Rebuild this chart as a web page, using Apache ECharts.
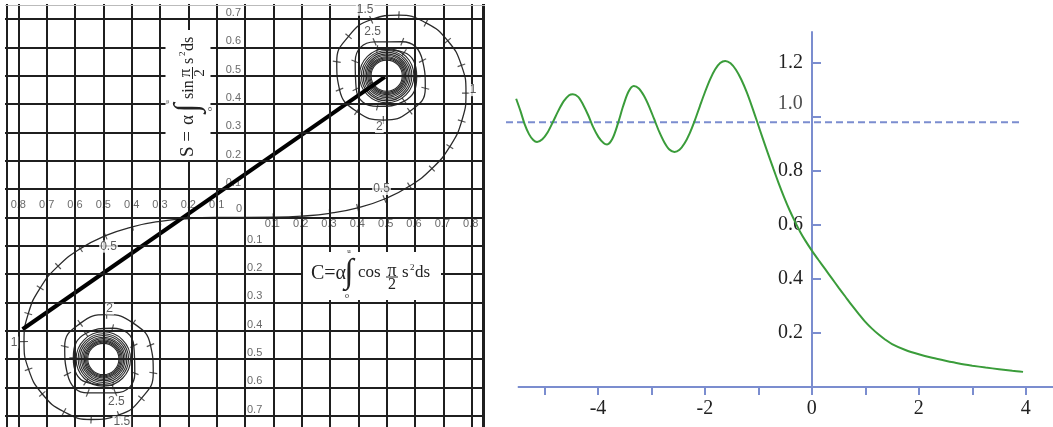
<!DOCTYPE html>
<html>
<head>
<meta charset="utf-8">
<title>Cornu spiral / edge diffraction</title>
<style>
    html, body { margin: 0; padding: 0; background: #fff; }
    #main { width: 1053px; height: 427px; }
</style>
</head>
<body>
<div id="main"></div>
<script src="https://cdn.jsdelivr.net/npm/echarts@6/dist/echarts.min.js"></script>
<script>
// Cornu spiral, read at u = 0, 0.1, 0.2 ... 3.2
var upperC = [0, 0.0999, 0.1999, 0.2994, 0.3975, 0.4923, 0.5811, 0.6597, 0.7228, 0.7648, 0.7799,
    0.7638, 0.7154, 0.6386, 0.5431, 0.4453, 0.3655, 0.3238, 0.3336, 0.3944, 0.4882,
    0.5816, 0.6363, 0.6266, 0.5550, 0.4574, 0.3889, 0.3925, 0.4675, 0.5624, 0.6058, 0.5616, 0.4664];
var upperS = [0, 0.0005, 0.0042, 0.0141, 0.0334, 0.0647, 0.1105, 0.1721, 0.2493, 0.3398, 0.4383,
    0.5365, 0.6234, 0.6863, 0.7135, 0.6975, 0.6389, 0.5492, 0.4509, 0.3733, 0.3434,
    0.3743, 0.4557, 0.5532, 0.6197, 0.6192, 0.5500, 0.4529, 0.3915, 0.4101, 0.4963, 0.5818, 0.5933];
// same spiral for u = 0, -0.1 ... -3.2
var lowerC = [0, -0.0999, -0.1999, -0.2994, -0.3975, -0.4923, -0.5811, -0.6597, -0.7228, -0.7648, -0.7799,
    -0.7638, -0.7154, -0.6386, -0.5431, -0.4453, -0.3655, -0.3238, -0.3336, -0.3944, -0.4882,
    -0.5816, -0.6363, -0.6266, -0.5550, -0.4574, -0.3889, -0.3925, -0.4675, -0.5624, -0.6058, -0.5616, -0.4664];
var lowerS = [0, -0.0005, -0.0042, -0.0141, -0.0334, -0.0647, -0.1105, -0.1721, -0.2493, -0.3398, -0.4383,
    -0.5365, -0.6234, -0.6863, -0.7135, -0.6975, -0.6389, -0.5492, -0.4509, -0.3733, -0.3434,
    -0.3743, -0.4557, -0.5532, -0.6197, -0.6192, -0.5500, -0.4529, -0.3915, -0.4101, -0.4963, -0.5818, -0.5933];

var spiralLabels = ['0.5', '1', '1.5', '2', '2.5'];
var spiralLabelIndex = [5, 10, 15, 20, 25];

// tight windings near the two eyes
var eyeUpper = [0.5, 0.5];
var eyeLower = [-0.5, -0.5];
var ringRadii = [0.096, 0.089, 0.083, 0.077, 0.072, 0.067, 0.063, 0.059, 0.055];

// straight chord
var chordC = [-0.785, 0.494];
var chordS = [-0.395, 0.496];

var gridC = [-0.8, -0.7, -0.6, -0.5, -0.4, -0.3, -0.2, -0.1, 0, 0.1, 0.2, 0.3, 0.4, 0.5, 0.6, 0.7, 0.8];
var gridS = [-0.7, -0.6, -0.5, -0.4, -0.3, -0.2, -0.1, 0, 0.1, 0.2, 0.3, 0.4, 0.5, 0.6, 0.7];
var cTicks = [0.1, 0.2, 0.3, 0.4, 0.5, 0.6, 0.7, 0.8];
var cTickLabels = ['0.1', '0.2', '0.3', '0.4', '0.5', '0.6', '0.7', '0.8'];
var sTicks = [0.1, 0.2, 0.3, 0.4, 0.5, 0.6, 0.7];
var sTickLabels = ['0.1', '0.2', '0.3', '0.4', '0.5', '0.6', '0.7'];

// intensity behind the edge
var intensityX = [-5.53, -5.45, -5.37, -5.29, -5.21, -5.14,
    -5.04, -4.94, -4.84, -4.74, -4.64, -4.54, -4.47,
    -4.37, -4.28, -4.18, -4.09, -3.99, -3.89, -3.83,
    -3.73, -3.63, -3.53, -3.43, -3.33,
    -3.235, -3.14, -3.045, -2.95, -2.855, -2.76, -2.665, -2.57,
    -2.475, -2.38, -2.285, -2.19, -2.095, -2.0, -1.905, -1.81, -1.715, -1.62,
    -1.52, -1.42, -1.32, -1.22, -1.12, -1.02, -0.92, -0.82, -0.72, -0.62, -0.52, -0.42, -0.32, -0.22, -0.11, 0,
    0.125, 0.25, 0.375, 0.5, 0.625, 0.75, 0.875, 1.0, 1.125, 1.25, 1.375, 1.5, 1.75, 2.0, 2.25, 2.5, 2.75,
    3.0, 3.25, 3.5, 3.75, 3.95];
var intensityY = [1.067, 1.022, 0.972, 0.936, 0.914, 0.907,
    0.917, 0.943, 0.982, 1.023, 1.058, 1.080, 1.084,
    1.074, 1.046, 1.005, 0.962, 0.925, 0.902, 0.898,
    0.919, 0.973, 1.039, 1.093, 1.114,
    1.105, 1.078, 1.039, 0.992, 0.945, 0.906, 0.879, 0.870,
    0.878, 0.902, 0.939, 0.986, 1.039, 1.091, 1.138, 1.175, 1.199, 1.207,
    1.198, 1.174, 1.138, 1.092, 1.038, 0.98, 0.921, 0.864, 0.808, 0.754, 0.703, 0.656, 0.614, 0.575, 0.538, 0.505,
    0.470, 0.436, 0.402, 0.368, 0.335, 0.302, 0.271, 0.241, 0.216, 0.194, 0.175, 0.159, 0.137, 0.121, 0.108, 0.097, 0.087,
    0.079, 0.072, 0.066, 0.06, 0.056];
var levelX = [-5.72, 3.9];
var levelY = 0.98;
var xAxisSpan = [-5.5, 4.51];
var xTickValues = [-5, -4, -3, -2, -1, 0, 1, 2, 3, 4];
var xLabelValues = [-4, -2, 0, 2, 4];
var yTickValues = [0.2, 0.4, 0.6, 0.8, 1.0, 1.2];
var yLabelValues = [0.2, 0.4, 0.6, 0.8, 1.2];

var INK = '#1f1f1f';
var BLUE = '#7b8dcf';
var SERIF = '"Liberation Serif", "DejaVu Serif", serif';
var SANS = '"Liberation Sans", Arial, sans-serif';

function zip(xs, ys) {
    return xs.map(function (x, i) { return [x, ys[i]]; });
}

// short marks across the spiral, perpendicular to it
function buildTicks(cs, ss) {
    var out = [];
    for (var i = 1; i < cs.length; i++) {
        var a = i - 1, b = Math.min(i + 1, cs.length - 1);
        var angle = Math.atan2(ss[b] - ss[a], cs[b] - cs[a]) * 180 / Math.PI;
        out.push({ value: [cs[i], ss[i]], symbolRotate: angle });
    }
    return out;
}

function buildRings(centre) {
    return ringRadii.map(function (r) { return [centre[0], centre[1], r]; });
}

function labelItem(value, text, align, offset) {
    return {
        value: value, name: text,
        label: { align: align, offset: offset }
    };
}

function buildAxisLabels() {
    var items = [];
    cTicks.forEach(function (v, i) {
        items.push(labelItem([-v, 0], cTickLabels[i], 'center', [0, -12]));
        items.push(labelItem([v, 0], cTickLabels[i], 'center', [-1, 7]));
    });
    sTicks.forEach(function (v, i) {
        items.push(labelItem([0, v], sTickLabels[i], 'right', [-4, -6]));
        items.push(labelItem([0, -v], sTickLabels[i], 'left', [2, -6]));
    });
    items.push(labelItem([0, 0], '0', 'center', [-6, -8]));
    return items;
}

var upperLabelOffsets = [[-3, -10], [7, -3], [-6, -10], [-4, 7], [-2, -10]];
var lowerLabelOffsets = [[3, 11], [-10, 1], [3, 7], [3, -6], [1, 9]];

function buildSpiralLabels() {
    var items = [];
    spiralLabels.forEach(function (t, i) {
        var k = spiralLabelIndex[i];
        items.push(labelItem([upperC[k], upperS[k]], t, 'center', upperLabelOffsets[i]));
        items.push(labelItem([lowerC[k], lowerS[k]], t, 'center', lowerLabelOffsets[i]));
    });
    return items;
}

function mathText(str, x, y, size, align) {
    return {
        type: 'text', x: x, y: y, z: 101,
        style: {
            text: str,
            font: size + 'px ' + SERIF,
            fill: '#222',
            textAlign: align || 'left', align: align || 'left',
            textVerticalAlign: 'middle', verticalAlign: 'middle'
        }
    };
}

function bar(x1, x2, y) {
    return {
        type: 'line', z: 101,
        shape: { x1: x1, y1: y, x2: x2, y2: y },
        style: { stroke: '#222', lineWidth: 1 }
    };
}

function blank(x, y, w, h) {
    return { type: 'rect', z: 100, shape: { x: x, y: y, width: w, height: h }, style: { fill: '#fff' } };
}

var sFormula = {
    type: 'group', x: 188.5, y: 157, rotation: Math.PI / 2, z: 100,
    children: [
        blank(-3, -23, 130, 45),
        mathText('S =', 0, 0, 19),
        mathText('\u03b1', 32, 0, 19),
        mathText('\u222b', 49, 0, 34, 'center'),
        mathText('u', 55, -21, 7, 'center'),
        mathText('o', 48, 21, 8, 'center'),
        mathText('sin', 58, 0, 16),
        mathText('\u03c0', 84, -3, 17, 'center'),
        bar(78, 90, 4),
        mathText('2', 84, 12, 15, 'center'),
        mathText('s', 93, 0, 16),
        mathText('2', 101, -6, 9),
        mathText('ds', 106, 0, 16)
    ]
};

var cFormula = {
    type: 'group', x: 0, y: 0, z: 100,
    children: [
        blank(303, 252, 138, 48),
        mathText('C=\u03b1', 311, 274, 20),
        mathText('\u222b', 349, 273, 34, 'center'),
        mathText('u', 349, 251, 7, 'center'),
        mathText('o', 347, 296, 8, 'center'),
        mathText('cos', 358, 273, 17),
        mathText('\u03c0', 392, 271, 18, 'center'),
        bar(386, 398, 277),
        mathText('2', 392, 285, 16, 'center'),
        mathText('s', 402, 273, 17),
        mathText('2', 410, 268, 9),
        mathText('ds', 415, 273, 17)
    ]
};

var gridLines = gridC.map(function (v) { return { xAxis: v }; })
    .concat(gridS.map(function (v) { return { yAxis: v }; }))
    .concat([
        { xAxis: -0.845, lineStyle: { width: 2 } },
        { xAxis: 0.845, lineStyle: { width: 3 } },
        { yAxis: 0.751, lineStyle: { color: '#bbb', width: 1 } }
    ]);

function ringSeries(centre) {
    return {
        type: 'custom', xAxisIndex: 0, yAxisIndex: 0, z: 3, silent: true,
        data: buildRings(centre),
        renderItem: function (params, api) {
            var c = api.coord([api.value(0), api.value(1)]);
            var r = api.size([api.value(2), 0])[0];
            return {
                type: 'circle',
                shape: { cx: c[0], cy: c[1], r: r },
                style: { fill: 'none', stroke: '#2a2a2a', lineWidth: 1.1 }
            };
        }
    };
}

function spiralLine(cs, ss) {
    return {
        type: 'line', xAxisIndex: 0, yAxisIndex: 0, z: 3, silent: true,
        data: zip(cs, ss), smooth: 0.5, symbol: 'none',
        lineStyle: { color: '#2a2a2a', width: 1.3 }
    };
}

var tickSeries = {
    type: 'scatter', xAxisIndex: 0, yAxisIndex: 0, z: 3, silent: true,
    symbol: 'rect', symbolSize: [1.2, 8],
    itemStyle: { color: '#2a2a2a' },
    data: buildTicks(upperC, upperS).concat(buildTicks(lowerC, lowerS))
};

var chart = echarts.init(document.getElementById('main'));

chart.setOption({
    animation: false,
    backgroundColor: '#fff',
    grid: [
        { left: 5, top: 4, width: 480, height: 423 },
        { left: 506, top: 32, right: 0, bottom: 40 }
    ],
    xAxis: [
        { gridIndex: 0, type: 'value', min: -0.847, max: 0.847, show: false },
        {
            gridIndex: 1, type: 'value', min: -5.72, max: 4.51,
            axisLine: { show: false },
            axisTick: { customValues: xTickValues, length: 8, lineStyle: { color: BLUE, width: 2 } },
            axisLabel: {
                customValues: xLabelValues, margin: 12,
                color: '#222', fontFamily: SERIF, fontSize: 20
            },
            splitLine: { show: false }
        }
    ],
    yAxis: [
        { gridIndex: 0, type: 'value', min: -0.74, max: 0.753, show: false },
        {
            gridIndex: 1, type: 'value', min: 0, max: 1.314,
            offset: -306,
            axisLine: { show: true, onZero: false, lineStyle: { color: BLUE, width: 2 } },
            axisTick: { show: true, customValues: yTickValues, inside: true, length: 9, lineStyle: { color: BLUE, width: 2 } },
            axisLabel: {
                customValues: yLabelValues, margin: 9,
                color: '#222', fontFamily: SERIF, fontSize: 20,
                formatter: function (v) { return v.toFixed(1); }
            },
            splitLine: { show: false }
        }
    ],
    graphic: [sFormula, cFormula],
    series: [
        {
            type: 'scatter', xAxisIndex: 0, yAxisIndex: 0, z: 1, silent: true,
            symbolSize: 0,
            label: {
                show: true, position: [0, 0], verticalAlign: 'middle',
                color: '#444', fontFamily: SANS, fontSize: 11,
                formatter: function (p) { return p.name; }
            },
            data: buildAxisLabels()
        },
        {
            type: 'line', xAxisIndex: 0, yAxisIndex: 0, z: 2, silent: true,
            data: [], symbol: 'none',
            markLine: {
                silent: true, symbol: ['none', 'none'], label: { show: false },
                lineStyle: { color: INK, width: 2, type: 'solid' },
                emphasis: { disabled: true },
                data: gridLines
            }
        },
        spiralLine(upperC, upperS),
        spiralLine(lowerC, lowerS),
        ringSeries(eyeUpper),
        ringSeries(eyeLower),
        tickSeries,
        {
            type: 'line', xAxisIndex: 0, yAxisIndex: 0, z: 4, silent: true,
            data: zip(chordC, chordS), symbol: 'none',
            lineStyle: { color: '#000', width: 4 }
        },
        {
            type: 'scatter', xAxisIndex: 0, yAxisIndex: 0, z: 5, silent: true,
            symbolSize: 0,
            label: {
                show: true, position: [0, 0], verticalAlign: 'middle',
                color: '#333', fontFamily: SANS, fontSize: 12,
                backgroundColor: '#fff', padding: [0, 1],
                formatter: function (p) { return p.name; }
            },
            data: buildSpiralLabels()
        },
        {
            // x axis line, starting a little right of the dashed level
            type: 'line', xAxisIndex: 1, yAxisIndex: 1, silent: true,
            data: xAxisSpan.map(function (x) { return [x, 0]; }), symbol: 'none',
            lineStyle: { color: BLUE, width: 2 }
        },
        {
            type: 'line', xAxisIndex: 1, yAxisIndex: 1, silent: true,
            data: levelX.map(function (x) { return [x, levelY]; }), symbol: 'none',
            lineStyle: { color: BLUE, width: 2, type: [7, 4] }
        },
        {
            type: 'line', xAxisIndex: 1, yAxisIndex: 1, silent: true,
            data: zip(intensityX, intensityY), smooth: 0.3, symbol: 'none',
            lineStyle: { color: '#3a9c3a', width: 2 }
        },
        {
            type: 'scatter', xAxisIndex: 1, yAxisIndex: 1, silent: true,
            symbolSize: 0,
            label: {
                show: true, position: [0, 0], align: 'right', verticalAlign: 'middle',
                offset: [-9, -13], color: '#222', fontFamily: SERIF, fontSize: 20,
                formatter: '1.0'
            },
            data: [[0, 1.0]]
        }
    ]
});
</script>
</body>
</html>
